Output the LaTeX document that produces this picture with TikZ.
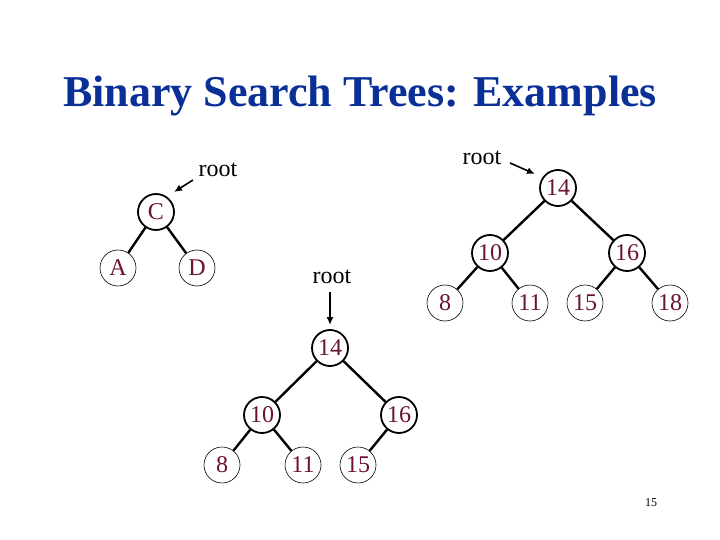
\documentclass[tikz,border=0pt]{standalone}
\usepackage{fontspec}
\setmainfont{Liberation Serif}
\usetikzlibrary{arrows.meta}
\definecolor{Navy}{HTML}{0A2F96}
\definecolor{Key}{HTML}{6B1238}

\begin{document}
\begin{tikzpicture}[x=1pt,y=-1pt, n/.style={circle,draw,minimum size=36pt,inner sep=0pt,font=\fontsize{24}{24}\selectfont,text=Key}, ni/.style={n,line width=1.8pt}, nl/.style={n,line width=0.6pt}, e/.style={line width=2.4pt}, lbl/.style={font=\fontsize{24}{24}\selectfont}, a/.style={-{Latex[length=8pt,width=7pt]},line width=1.6pt}]
    \useasboundingbox (0,0) rectangle (720,540);
    \node[anchor=base,font=\fontsize{44}{44}\selectfont\bfseries,text=Navy] (title) at (360,107) {Binary Search Trees: Examples};
    % tree 1
    \node[ni] (c) at (156,212) {C}; \node[nl] (a1) at (118,268) {A}; \node[nl] (d) at (197,268) {D};
    \draw[e](c)--(a1);\draw[e](c)--(d);
    \node[lbl] (r1) at (218,170) {root};
    \coordinate (s1) at (193,180); \coordinate (t1) at (174,192); \draw[a](s1)--(t1);
    % tree 2
    \node[ni] (p14) at (558,188) {14}; \node[ni] (p10) at (490,253) {10}; \node[ni] (p16) at (627,253) {16};
    \node[nl] (p8) at (445,303) {8}; \node[nl] (p11) at (530,303) {11}; \node[nl] (p15) at (585,303) {15}; \node[nl] (p18) at (670,303) {18};
    \draw[e](p14)--(p10);\draw[e](p14)--(p16);\draw[e](p10)--(p8);\draw[e](p10)--(p11);\draw[e](p16)--(p15);\draw[e](p16)--(p18);
    \node[lbl] (r2) at (482,158) {root};
    \coordinate (s2) at (510,163); \coordinate (t2) at (535,174); \draw[a](s2)--(t2);
    % tree 3
    \node[ni] (q14) at (330,348) {14}; \node[ni] (q10) at (262,415) {10}; \node[ni] (q16) at (399,415) {16};
    \node[nl] (q8) at (222,465) {8}; \node[nl] (q11) at (303,465) {11}; \node[nl] (q15) at (358,465) {15};
    \draw[e](q14)--(q10);\draw[e](q14)--(q16);\draw[e](q10)--(q8);\draw[e](q10)--(q11);\draw[e](q16)--(q15);
    \node[lbl] (r3) at (332,277) {root};
    \coordinate (s3) at (330,292); \coordinate (t3) at (330,325); \draw[a](s3)--(t3);
    \node[font=\fontsize{12}{12}\selectfont] (pg) at (651,503) {15};
  \end{tikzpicture}
\end{document}
